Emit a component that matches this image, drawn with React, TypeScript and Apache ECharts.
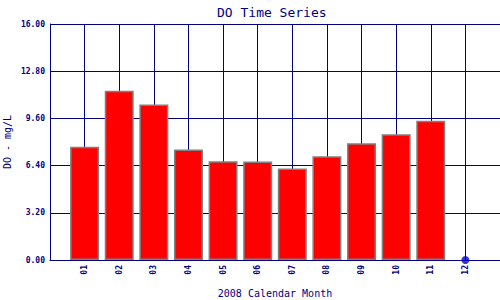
import React, { useEffect, useRef } from "react";
import * as echarts from "echarts";

const months = ["01", "02", "03", "04", "05", "06", "07", "08", "09", "10", "11", "12"];
const doValues: (number | null)[] = [7.68, 11.48, 10.55, 7.5, 6.69, 6.68, 6.21, 7.03, 7.91, 8.52, 9.44, null];
const missingMonths = ["12"];
const missingValue = 0;
const yMin = 0;
const yMax = 16;
const yInterval = 3.2;

const NAVY = "#000080";
const MONO = "'DejaVu Sans Mono', 'Liberation Mono', monospace";

export default function App() {
  const ref = useRef<HTMLDivElement>(null);
  useEffect(() => {
    if (!ref.current) return;
    const chart = echarts.init(ref.current, null, { renderer: "svg" });
    const axisCats = ["", ...months, ""];
    chart.setOption({
      animation: false,
      backgroundColor: "#ffffff",
      title: {
        text: "DO Time Series",
        left: 212,
        top: 1,
        textStyle: { color: NAVY, fontSize: 13, fontWeight: "normal", fontFamily: MONO },
      },
      grid: { left: 50, right: 0, top: 24, bottom: 40, containLabel: false, outerBoundsMode: "none" },
      xAxis: {
        type: "category",
        data: axisCats,
        boundaryGap: false,
        name: "2008 Calendar Month",
        nameLocation: "middle",
        nameGap: 28,
        nameMoveOverlap: false,
        nameTextStyle: { color: NAVY, fontSize: 10, fontFamily: MONO },
        axisLine: { show: true, lineStyle: { color: NAVY, width: 1 } },
        axisTick: { show: false },
        axisLabel: {
          interval: 0,
          rotate: 90,
          margin: 5,
          color: NAVY,
          fontSize: 8,
          fontWeight: "bold",
          fontFamily: MONO,
        },
        splitLine: { show: true, interval: 0, lineStyle: { color: NAVY, width: 1 } },
      },
      yAxis: {
        type: "value",
        min: yMin,
        max: yMax,
        interval: yInterval,
        name: "DO - mg/L",
        nameLocation: "middle",
        nameGap: 38,
        nameMoveOverlap: false,
        nameTextStyle: { color: NAVY, fontSize: 10, fontFamily: MONO },
        axisLine: { show: true, lineStyle: { color: NAVY, width: 1 } },
        axisTick: { show: false },
        axisLabel: {
          margin: 5,
          color: NAVY,
          fontSize: 8,
          fontWeight: "bold",
          fontFamily: MONO,
          formatter: (v: number) => v.toFixed(2),
        },
        splitLine: { show: true, lineStyle: { color: NAVY, width: 1 } },
      },
      series: [
        {
          type: "bar",
          data: months.map((m, i) => [m, doValues[i]]).filter((d) => d[1] !== null),
          barWidth: 29,
          itemStyle: { color: "#ff0000", borderColor: "#808080", borderWidth: 1.5 },
          z: 3,
        },
        {
          type: "scatter",
          data: missingMonths.map((m) => [m, missingValue]),
          symbol: "circle",
          symbolSize: 8,
          itemStyle: { color: "#0000cc" },
          z: 5,
        },
      ],
    });
    return () => chart.dispose();
  }, []);
  return <div ref={ref} style={{ position: "fixed", left: 0, top: 0, width: 500, height: 300 }} />;
}
